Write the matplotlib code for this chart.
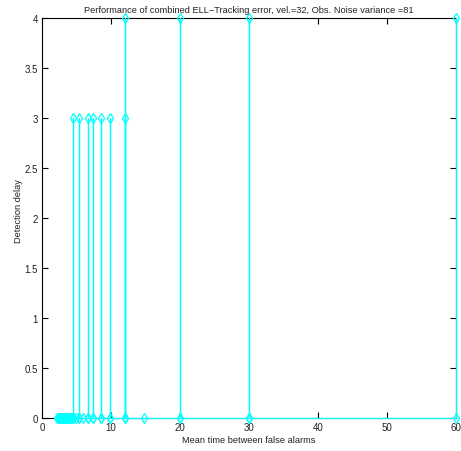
import matplotlib
matplotlib.use("Agg")
import matplotlib.pyplot as plt

# mean time between false alarms vs detection delay, in plotting order
mtbfa = [2.2, 2.3, 2.4, 2.5, 2.6, 2.7, 2.8, 2.9, 3.0, 3.1, 3.2, 3.3,
         3.4, 3.5, 3.6, 3.7, 3.8, 3.9, 4.0, 4.15, 4.3,
         4.5, 4.5, 4.5, 4.9, 5.4, 5.4, 5.4, 6.0, 6.6, 6.6, 6.6,
         7.4, 7.4, 7.4, 8.5, 8.5, 8.5, 9.9, 9.9, 9.9,
         12.0, 12.0, 12.0, 12.0, 12.0, 14.8, 20.0, 20.0, 20.0,
         30.0, 30.0, 30.0, 60.0, 60.0]
delay = [0, 0, 0, 0, 0, 0, 0, 0, 0, 0, 0, 0,
         0, 0, 0, 0, 0, 0, 0, 0, 0,
         0, 3, 0, 0, 0, 3, 0, 0, 0, 3, 0,
         0, 3, 0, 0, 3, 0, 0, 3, 0,
         0, 3, 0, 4, 0, 0, 0, 4, 0,
         0, 4, 0, 0, 4]

title = "Performance of combined ELL\u2212Tracking error, vel.=32, Obs. Noise variance =81"
xticks = [0, 10, 20, 30, 40, 50, 60]
yticks = [0, 0.5, 1, 1.5, 2, 2.5, 3, 3.5, 4]
ytick_labels = ["0", "0.5", "1", "1.5", "2", "2.5", "3", "3.5", "4"]

plt.rcParams["font.family"] = ["Liberation Sans", "DejaVu Sans"]

fig = plt.figure(figsize=(4.61, 4.52), dpi=100)
ax = fig.add_axes([0.0911, 0.073, 0.898, 0.885])

ax.plot(mtbfa, delay, color="cyan", linewidth=0.9, marker="d",
        markersize=5.5, markerfacecolor="none", markeredgecolor="cyan",
        markeredgewidth=0.9, clip_on=False, zorder=3)

ax.set_xlim(0, 60)
ax.set_ylim(0, 4)
ax.set_xticks(xticks)
ax.set_yticks(yticks)
ax.set_yticklabels(ytick_labels)
ax.tick_params(direction="in", length=4, width=0.8, labelsize=7,
               top=True, right=True, pad=3, labelcolor="#222222")
for s in ax.spines.values():
    s.set_linewidth(0.8)

ax.set_title(title, fontsize=6.7, pad=4, color="#222222")
ax.set_xlabel("Mean time between false alarms", fontsize=6.7, labelpad=2,
              color="#222222")
ax.set_ylabel("Detection delay", fontsize=6.7, color="#222222")
ax.yaxis.set_label_coords(-0.045, 0.52)

fig.savefig("out.png", dpi=100)
